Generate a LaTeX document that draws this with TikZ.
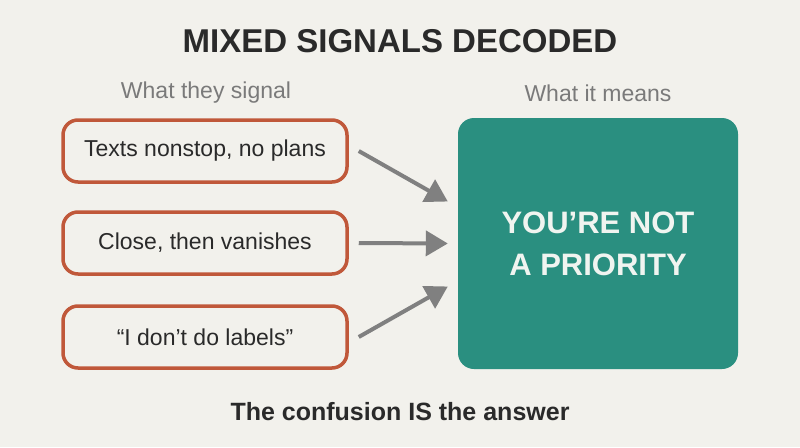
\documentclass[tikz,border=0pt]{standalone}
\usepackage{fontspec}
\setmainfont{Liberation Sans}
\usetikzlibrary{arrows.meta}
\definecolor{bg}{HTML}{F2F1EC}
\definecolor{rust}{HTML}{C0583A}
\definecolor{teal}{HTML}{2A8F80}
\definecolor{ink}{HTML}{2A2A2A}
\definecolor{subgray}{HTML}{7A7A7A}
\definecolor{arrgray}{HTML}{808080}
\definecolor{whiteish}{HTML}{F0F4F0}
\tikzset{
  sigbox/.style={draw=rust, line width=3.5pt, rounded corners=15pt, fill=bg,
    minimum width=284pt, minimum height=62pt, text=ink,
    font=\fontsize{23}{27}\selectfont},
  resbox/.style={fill=teal, rounded corners=16pt, minimum width=280pt,
    minimum height=251pt, text=whiteish, align=center,
    font=\fontsize{31}{42}\selectfont\bfseries},
  collabel/.style={text=subgray, font=\fontsize{23}{27}\selectfont},
  arr/.style={draw=arrgray, line width=4pt, -{Triangle[length=22pt,width=25pt]}},
}
\begin{document}
\begin{tikzpicture}[x=1pt,y=-1pt]
\fill[bg] (0,0) rectangle (800,447);
\useasboundingbox (0,0) rectangle (800,447);
\node[text=ink, font=\fontsize{33}{38}\selectfont\bfseries] (title) at (400,41) {MIXED SIGNALS DECODED};
\node[collabel] (lcol) at (206,93) {What they signal};
\node[collabel] (rcol) at (598,93) {What it means};
\node[sigbox] (b1) at (205,151) {Texts nonstop, no plans};
\node[sigbox] (b2) at (205,243) {Close, then vanishes};
\node[sigbox] (b3) at (205,337) {“I don’t do labels”};
\node[resbox] (res) at (598,243.5) {YOU’RE NOT\\A PRIORITY};
\node[text=ink, font=\fontsize{25}{29}\selectfont\bfseries] (foot) at (400,412) {The confusion IS the answer};
\draw[arr] ([xshift=10pt]b1.east) -- ([xshift=-10pt,yshift=42pt]res.west);
\draw[arr] ([xshift=10pt]b2.east) -- ([xshift=-10pt]res.west);
\draw[arr] ([xshift=10pt]b3.east) -- ([xshift=-10pt,yshift=-43pt]res.west);
\end{tikzpicture}
\end{document}
